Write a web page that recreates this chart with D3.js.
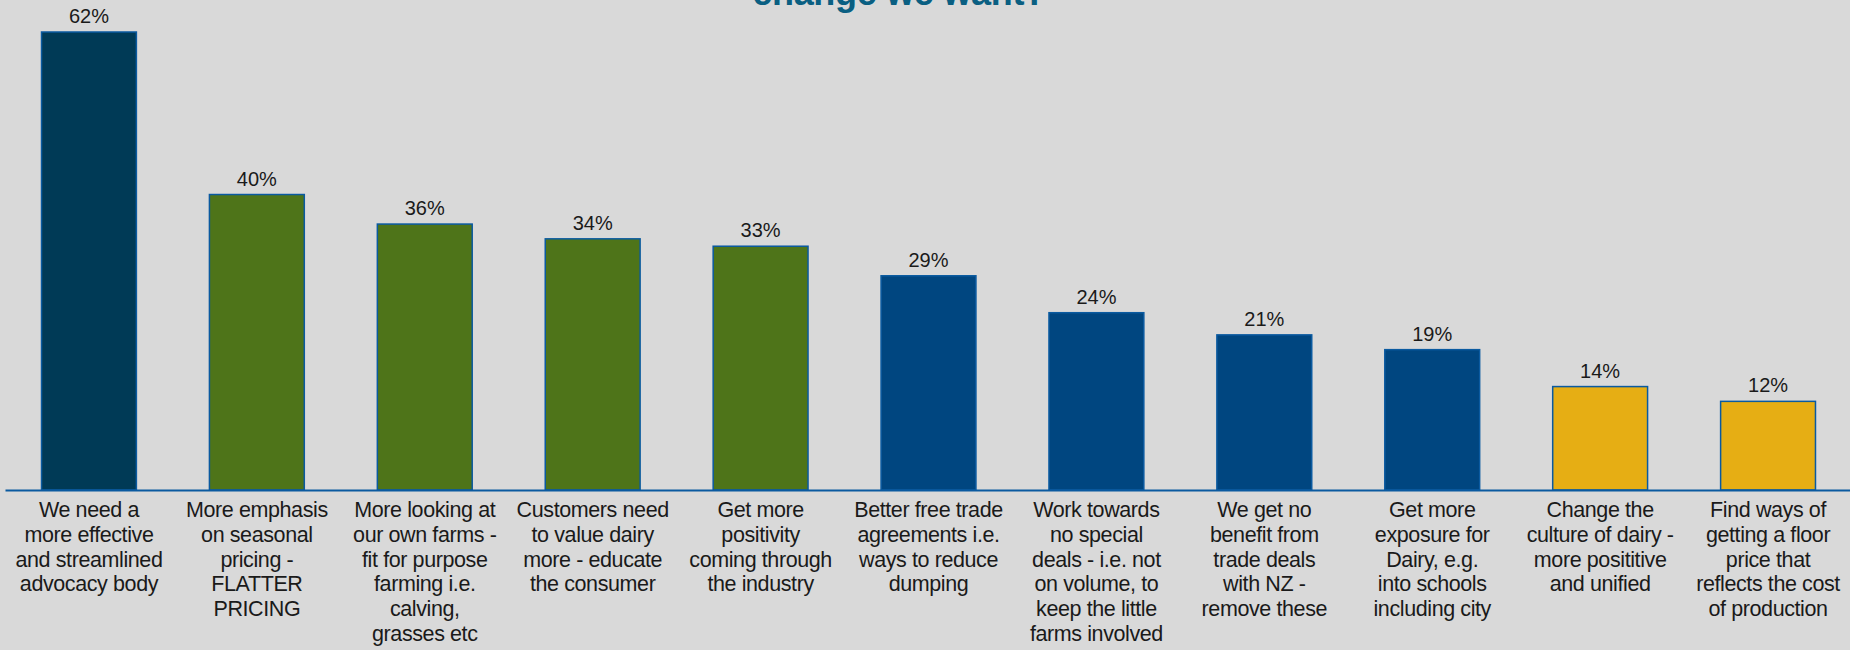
<!DOCTYPE html>
<html>
<head>
<meta charset="utf-8">
<script src="https://cdn.jsdelivr.net/npm/d3@7"></script>
<style>
  body { margin: 0; background: #d9d9d9; }
  svg { display: block; font-family: "Liberation Sans", Arial, sans-serif; }
</style>
</head>
<body>
<svg id="drawing_region"></svg>
<script>
const categories = [
    ['We need a', 'more effective', 'and streamlined', 'advocacy body'],
    ['More emphasis', 'on seasonal', 'pricing -', 'FLATTER', 'PRICING'],
    ['More looking at', 'our own farms -', 'fit for purpose', 'farming i.e.', 'calving,', 'grasses etc'],
    ['Customers need', 'to value dairy', 'more - educate', 'the consumer'],
    ['Get more', 'positivity', 'coming through', 'the industry'],
    ['Better free trade', 'agreements i.e.', 'ways to reduce', 'dumping'],
    ['Work towards', 'no special', 'deals - i.e. not', 'on volume, to', 'keep the little', 'farms involved'],
    ['We get no', 'benefit from', 'trade deals', 'with NZ -', 'remove these'],
    ['Get more', 'exposure for', 'Dairy, e.g.', 'into schools', 'including city'],
    ['Change the', 'culture of dairy -', 'more posititive', 'and unified'],
    ['Find ways of', 'getting a floor', 'price that', 'reflects the cost', 'of production']
];
const values = [0.62, 0.40, 0.36, 0.34, 0.33, 0.29, 0.24, 0.21, 0.19, 0.14, 0.12];
const groups = ['top', 'green', 'green', 'green', 'green', 'blue', 'blue', 'blue', 'blue', 'gold', 'gold'];
const title = 'change we want?';

const colors = { top: '#003a56', green: '#4e7419', blue: '#004680', gold: '#e6ae14' };

const config = {
    width: 1850,
    height: 650,
    margin: { top: 32, right: -2, bottom: 160, left: 5 }
};

const data = values.map((v, i) => ({ key: i, lines: categories[i], value: v, group: groups[i] }));

const svg = d3.select('#drawing_region')
    .attr('width', config.width)
    .attr('height', config.height);

svg.append('rect')
    .attr('width', config.width)
    .attr('height', config.height)
    .attr('fill', '#d9d9d9');

const inner_height = config.height - config.margin.top - config.margin.bottom;
const base_y = config.margin.top + inner_height;

const xscale = d3.scaleBand()
    .domain(data.map(d => d.key))
    .range([config.margin.left, config.width - config.margin.right])
    .paddingInner(0.435)
    .paddingOuter(0.2175);

const yscale = d3.scaleLinear()
    .domain([0, d3.max(values)])
    .range([base_y, config.margin.top]);

// title (its first line sits above the top of the picture)
svg.append('text')
    .attr('x', 899)
    .attr('y', 5)
    .attr('text-anchor', 'middle')
    .style('font-size', '36px')
    .style('font-weight', 'bold')
    .style('letter-spacing', '-0.3px')
    .attr('fill', '#0a5f82')
    .text(title);

// bars
svg.append('g').selectAll('rect').data(data)
    .join('rect')
    .attr('x', d => xscale(d.key))
    .attr('y', d => yscale(d.value))
    .attr('width', xscale.bandwidth())
    .attr('height', d => base_y - yscale(d.value))
    .attr('fill', d => colors[d.group])
    .attr('stroke', '#0a5aa0')
    .attr('stroke-width', 1.5);

// value labels
svg.append('g').selectAll('text').data(data)
    .join('text')
    .attr('x', d => xscale(d.key) + xscale.bandwidth() / 2)
    .attr('y', d => yscale(d.value) - 9)
    .attr('text-anchor', 'middle')
    .style('font-size', '20px')
    .attr('fill', '#1a1a1a')
    .text(d => d3.format('.0%')(d.value));

// x axis with wrapped category labels
const xaxis = d3.axisBottom(xscale)
    .tickSize(0)
    .tickSizeOuter(0)
    .tickFormat('');

const xaxis_group = svg.append('g')
    .attr('transform', `translate(0, ${base_y})`)
    .call(xaxis);

xaxis_group.select('.domain')
    .attr('stroke', '#0a5aa0')
    .attr('stroke-width', 2);

xaxis_group.selectAll('.tick text').remove();
xaxis_group.selectAll('.tick').each(function(k) {
    const t = d3.select(this).append('text')
        .attr('text-anchor', 'middle')
        .attr('fill', '#1a1a1a')
        .style('font-size', '21.5px')
        .style('letter-spacing', '-0.4px')
        .attr('y', 27);
    categories[k].forEach((line, i) => {
        t.append('tspan')
            .attr('x', 0)
            .attr('dy', i === 0 ? 0 : 24.8)
            .text(line);
    });
});
</script>
</body>
</html>
